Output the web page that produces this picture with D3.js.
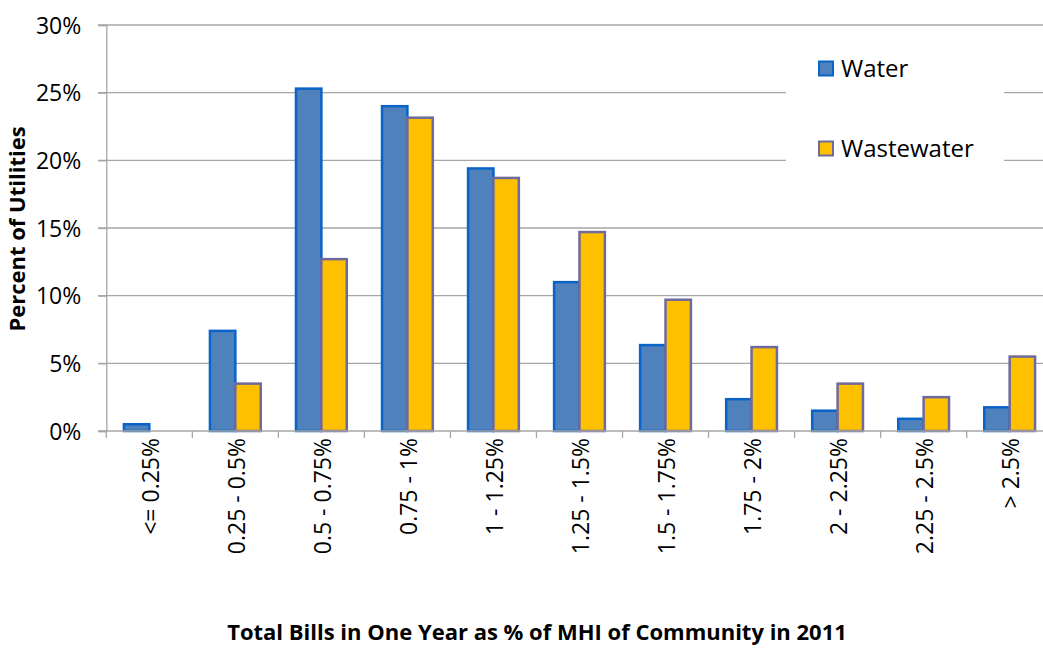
<!DOCTYPE html>
<html>
<head>
<meta charset="utf-8">
<script src="https://cdn.jsdelivr.net/npm/d3@7"></script>
<style>
  body { margin: 0; background: #fff; }
  svg { display: block; font-family: "Open Sans", sans-serif; }
</style>
</head>
<body>
<div id="chart"></div>
<script>
const categories = ["<= 0.25%", "0.25 - 0.5%", "0.5 - 0.75%", "0.75 - 1%", "1 - 1.25%",
  "1.25 - 1.5%", "1.5 - 1.75%", "1.75 - 2%", "2 - 2.25%", "2.25 - 2.5%", "> 2.5%"];
const water = [0.5, 7.4, 25.3, 24.0, 19.4, 11.0, 6.35, 2.35, 1.5, 0.9, 1.75];
const wastewater = [0, 3.5, 12.7, 23.15, 18.7, 14.7, 9.7, 6.2, 3.5, 2.5, 5.5];
const yTicks = [0, 5, 10, 15, 20, 25, 30];
const seriesNames = ["Water", "Wastewater"];

const width = 1043, height = 648;
const fills = { Water: "#4f81bd", Wastewater: "#ffc000" };
const strokes = { Water: "#0a64c8", Wastewater: "#6f6a9c" };

const svg = d3.select("#chart").append("svg")
  .attr("width", width).attr("height", height);

const x0 = d3.scaleBand().domain(categories).range([106.3, 1052.7]);
const x1 = d3.scaleBand().domain(seriesNames).range([17.6, 68.4]);
const y = d3.scaleLinear().domain([0, 30]).range([431, 25]);

// gridlines
svg.append("g")
  .selectAll("line")
  .data(yTicks.filter(d => d > 0))
  .join("line")
  .attr("x1", 98).attr("x2", width)
  .attr("y1", d => y(d)).attr("y2", d => y(d))
  .attr("stroke", "#a6a6a6").attr("stroke-width", 1.3);

// legend box (white, hides gridlines)
svg.append("rect")
  .attr("x", 786).attr("y", 40).attr("width", 218).attr("height", 145)
  .attr("fill", "#fff");

// y axis
const yAxis = svg.append("g")
  .attr("transform", "translate(106.3,0)")
  .call(d3.axisLeft(y).tickValues(yTicks).tickFormat(d => d + "%").tickSize(8).tickPadding(17));
yAxis.select(".domain").attr("stroke", "#a6a6a6").attr("stroke-width", 1.3);
yAxis.selectAll(".tick line").attr("stroke", "#a6a6a6").attr("stroke-width", 1.3);
yAxis.selectAll(".tick text")
  .attr("font-family", "Open Sans").attr("font-size", 23).attr("fill", "#000")
  .attr("dy", "0.36em");

// bars
const rows = categories.map((c, i) => ({ cat: c, vals: [
  { name: "Water", v: water[i] }, { name: "Wastewater", v: wastewater[i] }] }));

svg.append("g")
  .selectAll("g")
  .data(rows)
  .join("g")
  .attr("transform", d => `translate(${x0(d.cat)},0)`)
  .selectAll("rect")
  .data(d => d.vals.filter(s => s.v > 0))
  .join("rect")
  .attr("x", d => x1(d.name))
  .attr("y", d => y(d.v))
  .attr("width", x1.bandwidth())
  .attr("height", d => y(0) - y(d.v))
  .attr("fill", d => fills[d.name])
  .attr("stroke", d => strokes[d.name])
  .attr("stroke-width", 2.5);

// x axis
const xAxis = svg.append("g")
  .attr("transform", "translate(0,431)")
  .call(d3.axisBottom(x0).tickSize(0).tickPadding(0));
xAxis.select(".domain").remove();
svg.append("line")
  .attr("x1", 98).attr("x2", width).attr("y1", 431).attr("y2", 431)
  .attr("stroke", "#a6a6a6").attr("stroke-width", 1.3);
svg.append("g")
  .selectAll("line")
  .data(categories)
  .join("line")
  .attr("x1", d => x0(d)).attr("x2", d => x0(d))
  .attr("y1", 431).attr("y2", 438)
  .attr("stroke", "#a6a6a6").attr("stroke-width", 1.3);
xAxis.selectAll(".tick line").remove();
xAxis.selectAll(".tick text")
  .attr("font-family", "Open Sans").attr("font-size", 23).attr("fill", "#000")
  .attr("text-anchor", "end")
  .attr("transform", "translate(1,7) rotate(-90)")
  .attr("x", 0).attr("y", 0).attr("dy", "0.36em");

// legend
const legend = svg.append("g");
seriesNames.forEach((name, i) => {
  const ly = 61.5 + i * 80;
  legend.append("rect")
    .attr("x", 819).attr("y", ly).attr("width", 14).attr("height", 14)
    .attr("fill", fills[name]).attr("stroke", strokes[name]).attr("stroke-width", 2);
  legend.append("text")
    .attr("x", 841).attr("y", ly + 7).attr("dy", "0.36em")
    .attr("font-size", 24).attr("fill", "#000")
    .text(name);
});

// axis titles
svg.append("text")
  .attr("transform", `translate(17,229) rotate(-90)`)
  .attr("text-anchor", "middle").attr("dy", "0.36em")
  .attr("font-size", 22).attr("font-weight", "bold")
  .text("Percent of Utilities");

svg.append("text")
  .attr("x", 537).attr("y", 640)
  .attr("text-anchor", "middle")
  .attr("font-size", 22).attr("font-weight", "bold")
  .text("Total Bills in One Year as % of MHI of Community in 2011");
</script>
</body>
</html>
